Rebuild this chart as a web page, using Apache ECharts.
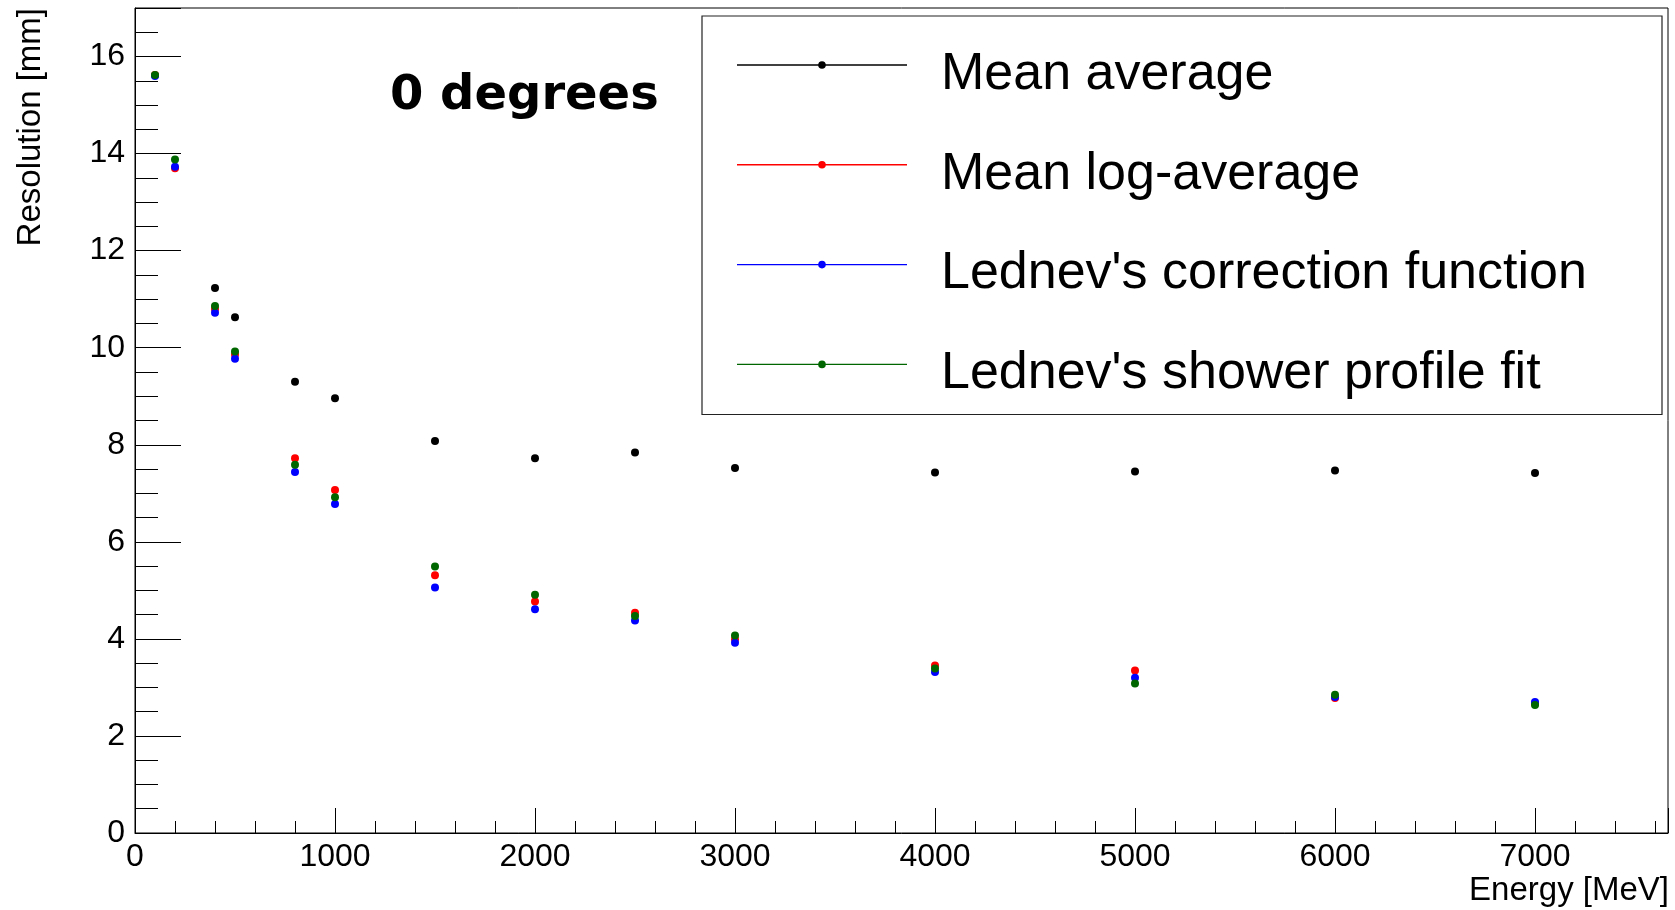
<!DOCTYPE html>
<html>
<head>
<meta charset="utf-8">
<script src="https://cdn.jsdelivr.net/npm/echarts@6/dist/echarts.min.js"></script>
<style>
  html, body { margin: 0; padding: 0; background: #ffffff; }
  #chart { width: 1675px; height: 910px; }
</style>
</head>
<body>
<div id="chart"></div>
<script>
// Beam energies (MeV)
const energies = [100, 200, 400, 500, 800, 1000, 1500, 2000, 2500, 3000, 4000, 5000, 6000, 7000];

// Position resolution (mm) for each reconstruction method
const meanAverage      = [null, null, 11.23, 10.63, 9.30, 8.96, 8.08, 7.72, 7.84, 7.52, 7.43, 7.45, 7.47, 7.42];
const meanLogAverage   = [15.62, 13.70, 10.80, 9.86, 7.72, 7.07, 5.31, 4.77, 4.54, 3.99, 3.45, 3.35, 2.78, 2.67];
const lednevCorrection = [15.60, 13.73, 10.72, 9.77, 7.44, 6.78, 5.06, 4.61, 4.38, 3.92, 3.32, 3.20, 2.80, 2.70];
const lednevShowerFit  = [15.62, 13.88, 10.86, 9.92, 7.59, 6.92, 5.49, 4.91, 4.47, 4.07, 3.39, 3.08, 2.85, 2.64];

const seriesNames = ['Mean average', 'Mean log-average', "Lednev's correction function", "Lednev's shower profile fit"];
const seriesColors = ['#000000', '#ff0000', '#0000ff', '#006600'];

const xTickLabels = [0, 1000, 2000, 3000, 4000, 5000, 6000, 7000];
const yTickLabels = [0, 2, 4, 6, 8, 10, 12, 14, 16];

const plotTitle = '0 degrees';
const xTitle = 'Energy [MeV]';
const yTitle = 'Resolution [mm]';

const allValues = [meanAverage, meanLogAverage, lednevCorrection, lednevShowerFit];

function toPoints(values) {
  const pts = [];
  energies.forEach((e, i) => { if (values[i] != null) pts.push([e, values[i]]); });
  return pts;
}

const FONT = '"Liberation Sans", Arial, Helvetica, sans-serif';

const chart = echarts.init(document.getElementById('chart'), null, { renderer: 'canvas' });

// Legend layout
const legendBox = { x: 702, y: 16, w: 960, h: 398.5 };
const legendRow0 = 65, legendRowStep = 99.8;
const legendChildren = [{
  type: 'rect',
  shape: { x: legendBox.x, y: legendBox.y, width: legendBox.w, height: legendBox.h },
  style: { fill: '#ffffff', stroke: '#222222', lineWidth: 1.2 }
}];
seriesNames.forEach((name, i) => {
  const y = legendRow0 + i * legendRowStep;
  legendChildren.push({
    type: 'line',
    shape: { x1: 737, y1: y, x2: 907, y2: y },
    style: { stroke: seriesColors[i], lineWidth: 1.4 }
  });
  legendChildren.push({
    type: 'circle',
    shape: { cx: 822, cy: y, r: 3.8 },
    style: { fill: seriesColors[i] }
  });
  legendChildren.push({
    type: 'text',
    x: 941, y: y + 9.5,
    style: { text: name, font: '52px ' + FONT, fill: '#000000', align: 'left', verticalAlign: 'middle' }
  });
});

const option = {
  animation: false,
  backgroundColor: '#ffffff',
  grid: {
    left: 135, top: 8, width: 1533, height: 825,
    show: true, borderColor: '#000000', borderWidth: 1,
    containLabel: false, outerBoundsMode: 'none'
  },
  xAxis: {
    type: 'value', min: 0, max: 7665, interval: 1000,
    splitLine: { show: false },
    axisLine: { show: true, onZero: false, lineStyle: { color: '#000000', width: 1 } },
    axisTick: { show: true, inside: true, length: 25, lineStyle: { color: '#000000', width: 1 } },
    minorTick: { show: true, splitNumber: 5, length: 12, lineStyle: { color: '#000000', width: 1 } },
    axisLabel: {
      show: true, margin: 8, fontSize: 32, fontFamily: FONT, color: '#000000',
      showMinLabel: true, showMaxLabel: true, hideOverlap: false,
      formatter: v => (xTickLabels.includes(v) ? String(v) : '')
    }
  },
  yAxis: {
    type: 'value', min: 0, max: 17, interval: 2,
    splitLine: { show: false },
    axisLine: { show: true, onZero: false, lineStyle: { color: '#000000', width: 1 } },
    axisTick: { show: true, inside: true, length: 46, lineStyle: { color: '#000000', width: 1 } },
    minorTick: { show: true, splitNumber: 4, length: 23, lineStyle: { color: '#000000', width: 1 } },
    axisLabel: {
      show: true, margin: 10, fontSize: 32, fontFamily: FONT, color: '#000000',
      showMinLabel: true, showMaxLabel: true, hideOverlap: false,
      formatter: v => (yTickLabels.includes(v) ? String(v) : '')
    }
  },
  series: allValues.map((vals, i) => ({
    name: seriesNames[i],
    type: 'scatter',
    symbol: 'circle',
    symbolSize: 8,
    itemStyle: { color: seriesColors[i], opacity: 1 },
    emphasis: { disabled: true },
    clip: true,
    data: toPoints(vals),
    z: 2 + i
  })),
  graphic: [
    {
      type: 'text', x: 390, y: 97,
      style: { text: plotTitle, font: 'bold 48px "DejaVu Sans", sans-serif', fill: '#000000', align: 'left', verticalAlign: 'middle' },
      z: 10
    },
    {
      type: 'text', x: 1669, y: 891,
      style: { text: xTitle, font: '33px ' + FONT, fill: '#000000', align: 'right', verticalAlign: 'middle' },
      z: 10
    },
    {
      type: 'text', x: 31, y: 8, rotation: Math.PI / 2,
      style: { text: yTitle, font: '33px ' + FONT, fill: '#000000', align: 'right', verticalAlign: 'middle' },
      z: 10
    },
    { type: 'group', children: legendChildren, z: 20 }
  ]
};

chart.setOption(option);
</script>
</body>
</html>
